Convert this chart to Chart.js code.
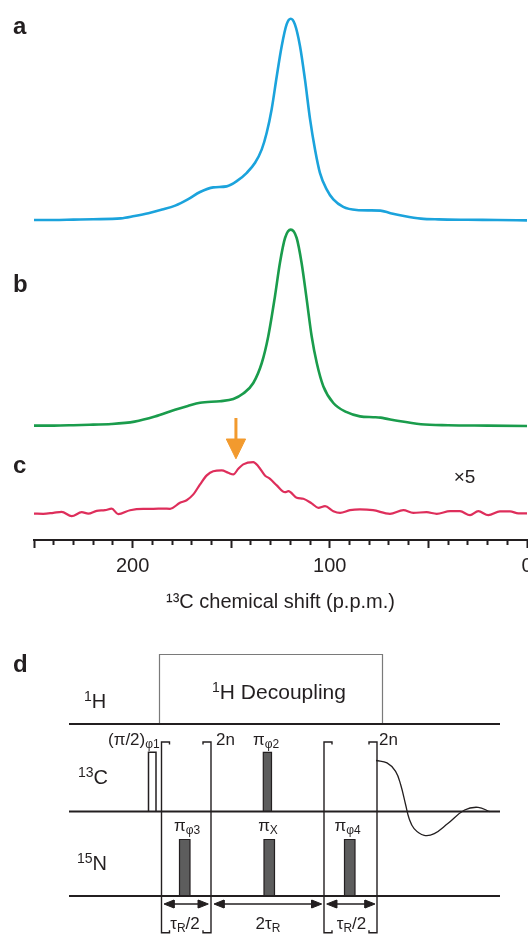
<!DOCTYPE html>
<html>
<head>
<meta charset="utf-8">
<script src="https://cdn.jsdelivr.net/npm/chart.js@4.4.1/dist/chart.umd.min.js"></script>
<style>
  html, body { margin: 0; padding: 0; background: #fff; }
  body { width: 528px; height: 935px; overflow: hidden; position: relative; }
  #spectra { position: absolute; left: 0; top: 0; }
  #sequence { position: absolute; left: 0; top: 630px; }
</style>
</head>
<body>
<canvas id="spectra" width="560" height="618"></canvas>
<canvas id="sequence" width="528" height="305"></canvas>
<script>
// ======================================================
// SPECTRA DATA (13C shift in p.p.m., intensity in a.u.)
// ======================================================

const ppmA = [250, 240, 230, 220, 206, 199, 192, 185, 178.4, 172, 165.8, 159.1, 152.3, 147.2, 142.1, 137.9,
  134.5, 132, 129.5, 126.9, 124.4, 121.9, 119.8, 117.7, 115.1, 112.6, 110, 107.5, 105, 101.6, 98.2, 93.2,
  86.4, 80, 74.4, 69.2, 62.4, 53.8, 45, 30, 15, 0];
const specA = [0, 0, 0.2, 0.4, 0.8, 2.0, 3.4, 5.2, 7.2, 10.3, 14.0, 16.3, 16.8, 19.4, 23.6, 28.6,
  35.3, 43.6, 55.3, 71.9, 86.9, 97.8, 100.6, 97.8, 86.9, 70.3, 50.3, 35.3, 23.6, 15.3, 10.3, 6.6,
  5.0, 4.8, 4.7, 3.4, 2.0, 0.7, 0.3, 0.1, 0, -0.2];

const ppmB = [250, 240, 230, 220, 210.9, 199, 188.7, 178.5, 172, 165.8, 155.7, 148.9, 143.9, 138.8, 134.5,
  131.2, 127.8, 125.3, 122.7, 119.8, 116.8, 114.3, 111.7, 109.2, 106.6, 103.3, 98.2, 91.4, 84.7, 78,
  74.3, 65.8, 53.8, 40, 20, 0];
const specB = [0, 0, 0.2, 0.5, 0.8, 2.0, 4.5, 7.9, 9.8, 11.4, 12.2, 13.3, 16.0, 21.3, 31.3,
  44.7, 64.7, 81.3, 93.8, 98.0, 93.8, 81.3, 63.0, 44.7, 31.3, 19.7, 11.3, 6.7, 4.6, 4.2,
  4.0, 2.4, 0.7, 0.2, 0, -0.2];

// trace c is plotted magnified x5
const ppmC = [250, 245.3, 240.2, 236, 230.9, 225.8, 222.5, 218.2, 214, 210.6, 207.3, 201.3, 194.6, 189.5,
  184.4, 181, 176, 172.6, 169.2, 165.8, 162.4, 159.1, 154.8, 151.5, 148.9, 146.4, 143.9, 138.8, 136.3,
  132.9, 130.3, 126.9, 122.7, 121, 116.8, 113.4, 109.2, 105.8, 102.4, 98.2, 94.8, 89.8, 84.7, 78.1,
  69.5, 62.7, 57.7, 50.9, 45.8, 39, 34, 28.9, 24.7, 19.6, 13.7, 8.6, 4.4, 0];
const specC = [0.2, 0.1, 0.6, 1.1, -1.1, 0.9, 0.2, 1.6, 1.9, 2.7, -0.1, 1.9, 2.6, 2.6,
  2.7, 2.6, 5.6, 6.9, 9.8, 14.8, 19.3, 21.4, 21.8, 20.6, 19.8, 22.6, 24.8, 25.9, 23.9,
  19.3, 17.6, 14.3, 10.9, 11.4, 8.1, 7.6, 5.3, 3.1, 3.9, 1.4, 0.6, 1.9, 2.3, 1.9,
  0.1, 1.9, 0.6, 0.9, 0.1, 1.4, 1.4, -0.6, 1.4, -0.6, 1.3, 1.3, 0.3, 0.3];

const labelledShifts = [200, 100, 0];
const panelLetters = ["a", "b", "c"];

// ======================================================
// PULSE SEQUENCE DATA (schematic units)
// ======================================================

const channelSups = ["1", "13", "15"];
const channelNuclei = ["H", "C", "N"];
const channelLevels = [94, 181.5, 266];
const channelSpan = [69, 500];

const decouplingSpan = [159.5, 382.5];
const decouplingTop = 24.5;

const flipPulse = [148.5, 156];
const carbonPulses = [[263.3, 271.5]];
const nitrogenPulses = [[179.5, 190], [264, 274.5], [344.5, 355]];
const carbonPulseTop = 122.3;
const nitrogenPulseTop = 209.5;

const bracketXs = [161.5, 211, 324, 377];
const bracketSides = ["open", "close", "open", "close"];
const bracketTop = 112;
const bracketBottom = 302.7;

const delaySpans = [[164, 208.3], [214, 321.7], [326.7, 375]];
const delayLevel = 274;

const fidX = [376, 387, 395.6, 400.7, 405.7, 409.1, 414.1, 424.2, 434.3, 447.8, 464.6, 478.1, 489.9];
const fidY = [130.5, 132.9, 141.3, 154.8, 175, 188.5, 198.6, 205.3, 203.6, 193.5, 180, 177.3, 181.7];

// ======================================================
// STYLE
// ======================================================

const INK = "#231f20";
const FONT = "'Liberation Sans', Arial, Helvetica, sans-serif";
const COLOR_A = "#1ba3dc";
const COLOR_B = "#1a9c4c";
const COLOR_C = "#de2e5b";
const ORANGE = "#f29a2e";

// vertical offsets of the stacked traces
const OFFSET_A = 160;
const OFFSET_B = 57.2;
const OFFSET_C = 13;

const ARROW_PPM = 147.6;

// baselines of the panel letters, in y-axis units
const LETTER_LEVELS = [253.2, 124, 33.6];

// ======================================================
// SPECTRA CHART
// ======================================================

function trace(xs, ys, offset, color, width) {
  return {
    data: xs.map((x, i) => ({ x: x, y: ys[i] + offset })),
    borderColor: color,
    borderWidth: width,
    pointRadius: 0,
    fill: false,
    cubicInterpolationMode: "monotone",
  };
}

const spectraLabels = {
  id: "spectraLabels",
  afterDraw(chart) {
    const ctx = chart.ctx;
    const { x, y } = chart.scales;
    ctx.save();
    ctx.fillStyle = INK;
    ctx.textBaseline = "alphabetic";
    ctx.textAlign = "left";
    ctx.font = "bold 24px " + FONT;
    panelLetters.forEach((l, i) => ctx.fillText(l, 13, y.getPixelForValue(LETTER_LEVELS[i])));
    ctx.font = "19px " + FONT;
    ctx.fillText("\u00d75", x.getPixelForValue(37.2), y.getPixelForValue(28.7));
    ctx.restore();
  },
};

new Chart(document.getElementById("spectra"), {
  type: "line",
  data: {
    datasets: [
      trace(ppmA, specA, OFFSET_A, COLOR_A, 2.6),
      trace(ppmB, specB, OFFSET_B, COLOR_B, 2.6),
      trace(ppmC, specC, OFFSET_C, COLOR_C, 2.2),
      {
        data: [{ x: ARROW_PPM, y: 61 }, { x: ARROW_PPM, y: 49.5 }],
        borderColor: ORANGE,
        borderWidth: 3,
        pointRadius: 0,
      },
      {
        data: [
          { x: ARROW_PPM + 4.9, y: 50.5 },
          { x: ARROW_PPM - 4.9, y: 50.5 },
          { x: ARROW_PPM, y: 40.6 },
          { x: ARROW_PPM + 4.9, y: 50.5 },
        ],
        borderColor: ORANGE,
        backgroundColor: ORANGE,
        borderWidth: 1,
        pointRadius: 0,
        fill: "shape",
      },
    ],
  },
  options: {
    responsive: false,
    animation: false,
    events: [],
    layout: { padding: { left: 34, right: 33, top: 0, bottom: 0 } },
    plugins: { legend: { display: false }, tooltip: { enabled: false } },
    scales: {
      x: {
        type: "linear",
        reverse: true,
        min: 0,
        max: 250,
        ticks: {
          stepSize: 10,
          autoSkip: false,
          maxRotation: 0,
          padding: 6,
          color: INK,
          font: { family: FONT, size: 20 },
          callback: (v) => (labelledShifts.includes(v) ? String(v) : ""),
        },
        grid: {
          drawOnChartArea: false,
          drawTicks: true,
          tickLength: 8,
          tickWidth: 2,
          tickColor: INK,
          tickBorderDash: (ctx) => (ctx.tick && ctx.tick.value % 50 === 0 ? [] : [4, 20]),
        },
        border: { display: true, color: INK, width: 2 },
        title: {
          display: true,
          text: "\u00b9\u00b3C chemical shift (p.p.m.)",
          color: INK,
          font: { family: FONT, size: 20 },
          padding: { top: 6, bottom: 4 },
        },
      },
      y: { type: "linear", display: false, min: 0, max: 270 },
    },
  },
  plugins: [spectraLabels],
});

// ======================================================
// PULSE SEQUENCE CHART
// ======================================================

const seqSets = [];

function path(points, style) {
  seqSets.push(Object.assign({
    data: points,
    borderColor: INK,
    borderWidth: 1.5,
    pointRadius: 0,
    fill: false,
    tension: 0,
  }, style || {}));
}

function block(x0, x1, top, bottom) {
  path([{ x: x0, y: bottom }, { x: x0, y: top }, { x: x1, y: top }, { x: x1, y: bottom }, { x: x0, y: bottom }],
    { fill: "shape", backgroundColor: "#5d5d5d", borderWidth: 1.2 });
}

// channel baselines
channelLevels.forEach((lv) => path([{ x: channelSpan[0], y: lv }, { x: channelSpan[1], y: lv }], { borderWidth: 2 }));

// 1H decoupling window
path([
  { x: decouplingSpan[0], y: channelLevels[0] },
  { x: decouplingSpan[0], y: decouplingTop },
  { x: decouplingSpan[1], y: decouplingTop },
  { x: decouplingSpan[1], y: channelLevels[0] },
], { borderColor: "#7a7a7a", borderWidth: 1.2 });

// (pi/2) excitation, open
path([
  { x: flipPulse[0], y: channelLevels[1] },
  { x: flipPulse[0], y: carbonPulseTop },
  { x: flipPulse[1], y: carbonPulseTop },
  { x: flipPulse[1], y: channelLevels[1] },
], { borderWidth: 1.5 });

carbonPulses.forEach((p) => block(p[0], p[1], carbonPulseTop, channelLevels[1]));
nitrogenPulses.forEach((p) => block(p[0], p[1], nitrogenPulseTop, channelLevels[2]));

// loop brackets
bracketXs.forEach((bx, i) => {
  const dir = bracketSides[i] === "open" ? 1 : -1;
  const stub = 8;
  const tick = 2.5;
  path([
    { x: bx + dir * stub, y: bracketTop + tick },
    { x: bx + dir * stub, y: bracketTop },
    { x: bx, y: bracketTop },
    { x: bx, y: bracketBottom },
    { x: bx + dir * stub, y: bracketBottom },
    { x: bx + dir * stub, y: bracketBottom - tick },
  ], { borderWidth: 1.4 });
});

// delay arrows
delaySpans.forEach(([x0, x1]) => {
  const len = 10;
  const half = 4;
  path([{ x: x0 + 4, y: delayLevel }, { x: x1 - 4, y: delayLevel }], { borderWidth: 1.4 });
  path([{ x: x0, y: delayLevel }, { x: x0 + len, y: delayLevel - half }, { x: x0 + len, y: delayLevel + half }, { x: x0, y: delayLevel }],
    { fill: "shape", backgroundColor: INK, borderWidth: 1 });
  path([{ x: x1, y: delayLevel }, { x: x1 - len, y: delayLevel - half }, { x: x1 - len, y: delayLevel + half }, { x: x1, y: delayLevel }],
    { fill: "shape", backgroundColor: INK, borderWidth: 1 });
});

// detected signal
path(fidX.map((x, i) => ({ x: x, y: fidY[i] })), { tension: 0.4, borderWidth: 1.3 });

// rich text: [text, kind] with kind n / sup / sub
const seqTexts = [
  { x: 84, y: 72, size: 20, align: "left", parts: [[channelSups[0], "sup"], [channelNuclei[0], "n"]] },
  { x: 78, y: 148, size: 20, align: "left", parts: [[channelSups[1], "sup"], [channelNuclei[1], "n"]] },
  { x: 77, y: 234, size: 20, align: "left", parts: [[channelSups[2], "sup"], [channelNuclei[2], "n"]] },
  { x: 279, y: 63, size: 21, align: "center", parts: [["1", "sup"], ["H Decoupling", "n"]] },
  { x: 108, y: 110, size: 17, align: "left", parts: [["(\u03c0/2)", "n"], ["\u03c61", "sub"]] },
  { x: 216, y: 110, size: 17, align: "left", parts: [["2n", "n"]] },
  { x: 379, y: 110, size: 17, align: "left", parts: [["2n", "n"]] },
  { x: 266, y: 110, size: 17, align: "center", parts: [["\u03c0", "n"], ["\u03c62", "sub"]] },
  { x: 187, y: 196, size: 17, align: "center", parts: [["\u03c0", "n"], ["\u03c63", "sub"]] },
  { x: 268, y: 196, size: 17, align: "center", parts: [["\u03c0", "n"], ["X", "sub"]] },
  { x: 347.5, y: 196, size: 17, align: "center", parts: [["\u03c0", "n"], ["\u03c64", "sub"]] },
  { x: 185, y: 294, size: 17, align: "center", parts: [["\u03c4", "n"], ["R", "sub"], ["/2", "n"]] },
  { x: 268, y: 294, size: 17, align: "center", parts: [["2\u03c4", "n"], ["R", "sub"]] },
  { x: 351.5, y: 294, size: 17, align: "center", parts: [["\u03c4", "n"], ["R", "sub"], ["/2", "n"]] },
];

function partFont(kind, size) {
  return (kind === "n" ? size : Math.round(size * 0.68)) + "px " + FONT;
}

const seqLabels = {
  id: "seqLabels",
  afterDraw(chart) {
    const ctx = chart.ctx;
    const { x, y } = chart.scales;
    ctx.save();
    ctx.fillStyle = INK;
    ctx.textBaseline = "middle";
    ctx.textAlign = "left";
    seqTexts.forEach((t) => {
      let total = 0;
      t.parts.forEach(([s, k]) => {
        ctx.font = partFont(k, t.size);
        total += ctx.measureText(s).width;
      });
      let cx = x.getPixelForValue(t.x) - (t.align === "center" ? total / 2 : 0);
      const cy = y.getPixelForValue(t.y);
      t.parts.forEach(([s, k]) => {
        ctx.font = partFont(k, t.size);
        const dy = k === "sup" ? -t.size * 0.25 : k === "sub" ? t.size * 0.27 : 0;
        ctx.fillText(s, cx, cy + dy);
        cx += ctx.measureText(s).width;
      });
    });
    ctx.font = "bold 24px " + FONT;
    ctx.textBaseline = "alphabetic";
    ctx.fillText("d", x.getPixelForValue(13), y.getPixelForValue(42));
    ctx.restore();
  },
};

new Chart(document.getElementById("sequence"), {
  type: "line",
  data: { datasets: seqSets },
  options: {
    responsive: false,
    animation: false,
    events: [],
    layout: { padding: 0 },
    plugins: { legend: { display: false }, tooltip: { enabled: false } },
    scales: {
      x: { type: "linear", display: false, min: 0, max: 528 },
      y: { type: "linear", display: false, min: 0, max: 305, reverse: true },
    },
  },
  plugins: [seqLabels],
});
</script>
</body>
</html>
